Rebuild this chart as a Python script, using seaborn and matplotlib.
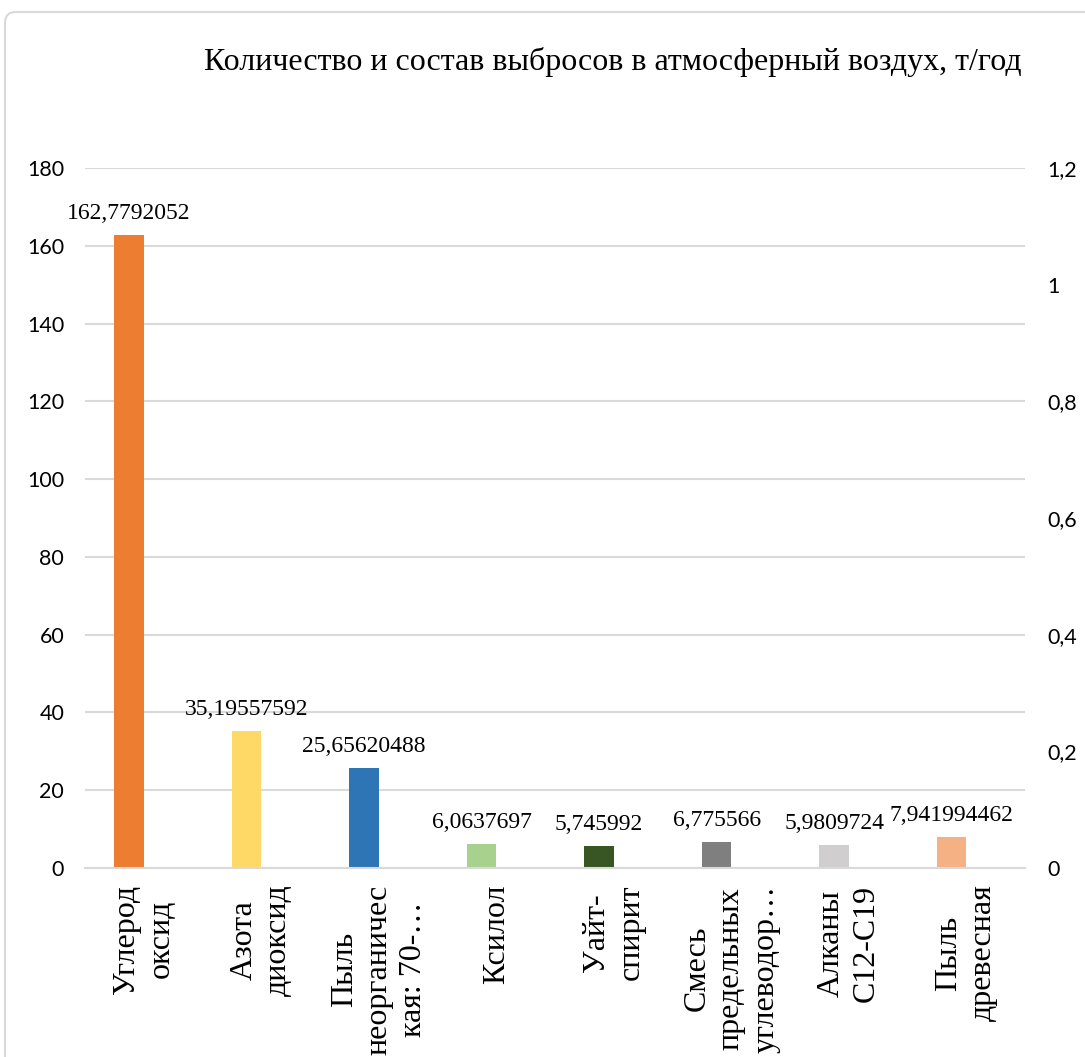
import matplotlib
matplotlib.use("Agg")
import matplotlib.pyplot as plt
import matplotlib.patches as mpatches
import seaborn as sns
import pandas as pd

categories = ["Углерод\nоксид", "Азота\nдиоксид", "Пыль\nнеорганичес\nкая: 70-…", "Ксилол",
              "Уайт-\nспирит", "Смесь\nпредельных\nуглеводор…", "Алканы\nС12-С19", "Пыль\nдревесная"]
values = [162.7792052, 35.19557592, 25.65620488, 6.0637697, 5.745992, 6.775566, 5.9809724, 7.941994462]
colors = ["#ED7D31", "#FFD966", "#2E75B6", "#A9D18E", "#375623", "#7F7F7F", "#D0CECE", "#F4B183"]
left_ticks = [0, 20, 40, 60, 80, 100, 120, 140, 160, 180]
right_ticks = [0, 0.2, 0.4, 0.6, 0.8, 1.0, 1.2]
right_labels = ["0", "0,2", "0,4", "0,6", "0,8", "1", "1,2"]
title = "Количество и состав выбросов в атмосферный воздух, т/год"

sns.set_theme(style="white")
plt.rcParams["font.family"] = ["Lato", "DejaVu Sans"]

df = pd.DataFrame({"cat": categories, "val": values, "series": ["main"] * len(values)})

fig = plt.figure(figsize=(10.85, 10.57), dpi=100)
W, H = 1085, 1057
ax = fig.add_axes([85 / W, 1 - 868 / H, (1025 - 85) / W, (868 - 168) / H])

sns.barplot(data=df, x="cat", y="val", hue="series", hue_order=["main", "secondary"],
            order=categories, dodge=True, width=0.5, legend=False, ax=ax,
            palette=["#ED7D31", "#FFFFFF"], saturation=1, errorbar=None)

cont = ax.containers[0]
for bar, c in zip(cont, colors):
    bar.set_facecolor(c)
    bar.set_edgecolor("none")

labels = [str(v).replace(".", ",") for v in values]
ax.bar_label(cont, labels=labels, padding=8, fontsize=17, family="Liberation Serif", color="#000000")

ax.set_ylim(0, 180)
ax.set_xlim(-0.5, len(categories) - 0.5)
ax.set_yticks(left_ticks)
ax.set_yticklabels([str(t) for t in left_ticks], fontsize=15.5, color="#000000")
ax.yaxis.grid(True, color="#D9D9D9", linewidth=1.5)
ax.set_axisbelow(True)
for s in ["top", "right", "left"]:
    ax.spines[s].set_visible(False)
ax.spines["bottom"].set_color("#D9D9D9")
ax.spines["bottom"].set_linewidth(1.5)
ax.tick_params(axis="y", length=0, pad=15)
ax.tick_params(axis="x", length=0, pad=12)
ax.set_xlabel("")
ax.set_ylabel("")
ax.set_xticks(range(len(categories)))
ax.set_xticklabels(categories, rotation=90, fontsize=23, family="Liberation Serif",
                   va="top", ha="center", multialignment="center", linespacing=1.25,
                   color="#000000")

ax2 = ax.twinx()
ax2.set_ylim(0, 1.2)
ax2.set_yticks(right_ticks)
ax2.set_yticklabels(right_labels, fontsize=15.5, color="#000000")
ax2.tick_params(axis="y", length=0, pad=16)
for s in ax2.spines.values():
    s.set_visible(False)
ax2.grid(False)

fig.text(613 / W, 1 - 62 / H, title, ha="center", va="center", fontsize=23,
         family="Liberation Serif", color="#000000")

border = mpatches.FancyBboxPatch((5 / W, -0.1), 1.2, 1.1 - 12 / H,
                                 boxstyle="round,pad=0,rounding_size=0.01",
                                 transform=fig.transFigure, facecolor="none",
                                 edgecolor="#D9D9D9", linewidth=1.5)
fig.patches.append(border)

fig.savefig("out.png", dpi=100)
